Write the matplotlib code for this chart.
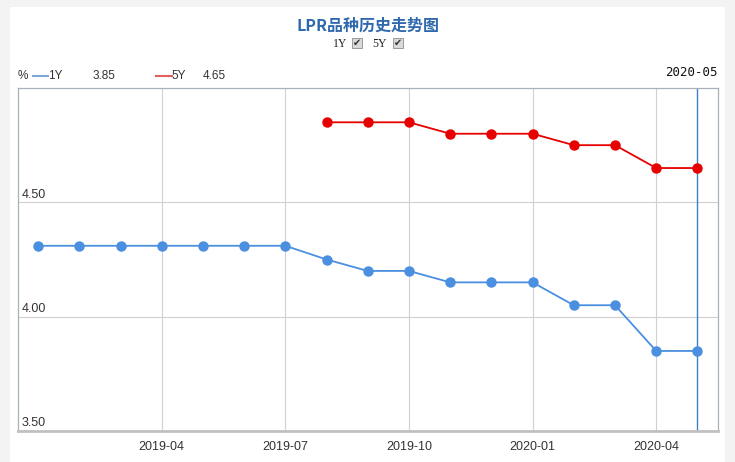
import matplotlib
matplotlib.use("Agg")
import matplotlib.pyplot as plt
from matplotlib.patches import Rectangle

months = ["2019-01", "2019-02", "2019-03", "2019-04", "2019-05", "2019-06", "2019-07",
          "2019-08", "2019-09", "2019-10", "2019-11", "2019-12", "2020-01", "2020-02",
          "2020-03", "2020-04", "2020-05"]
lpr_1y = [4.31, 4.31, 4.31, 4.31, 4.31, 4.31, 4.31, 4.25, 4.20, 4.20, 4.15, 4.15,
          4.15, 4.05, 4.05, 3.85, 3.85]
months_5y = months[7:]
lpr_5y = [4.85, 4.85, 4.85, 4.80, 4.80, 4.80, 4.75, 4.75, 4.65, 4.65]
x_ticks = ["2019-04", "2019-07", "2019-10", "2020-01", "2020-04"]
y_ticks = [3.50, 4.00, 4.50]
title = "LPR品种历史走势图"

plt.rcParams['font.family'] = ['Liberation Sans', 'Noto Sans CJK SC', 'DejaVu Sans']

W, H = 735, 462
fig = plt.figure(figsize=(W / 100, H / 100), dpi=100)
fig.patch.set_facecolor("#f3f3f3")
fig.patches.append(Rectangle((10 / W, 0), 715 / W, 1 - 7 / H, transform=fig.transFigure,
                             facecolor="white", edgecolor="none", zorder=-10))

ax = fig.add_axes([18 / W, 1 - 431 / H, 700 / W, 343 / H])
ax.set_facecolor("white")

idx = {m: i for i, m in enumerate(months)}
x1 = [idx[m] for m in months]
x5 = [idx[m] for m in months_5y]

c1 = "#4a8fe0"
c5 = "#e60000"
ax.plot(x1, lpr_1y, color=c1, lw=1.3, marker="o", ms=6.5, mec=c1, mfc=c1, zorder=3)
ax.plot(x5, lpr_5y, color=c5, lw=1.3, marker="o", ms=6.5, mec=c5, mfc=c5, zorder=3)

ax.set_xlim(-0.49, 16.5)
ax.set_ylim(3.5, 5.0)

# grid
for t in x_ticks:
    ax.axvline(idx[t], color="#ccd2dc", lw=0.8, zorder=1)
for y in y_ticks[1:]:
    ax.axhline(y, color="#d0d0d0", lw=0.8, zorder=1)
ax.axvline(idx["2020-05"], color="#3a82c4", lw=1.0, zorder=2)

ax.set_xticks([idx[t] for t in x_ticks])
ax.set_xticklabels(x_ticks, fontsize=9, color="#333333")
ax.tick_params(axis="x", length=0, pad=7)
ax.set_yticks([])
for y in y_ticks:
    ax.text(0.005, y + 0.008, f"{y:.2f}", transform=ax.get_yaxis_transform(),
            fontsize=9, color="#333333", ha="left", va="bottom")

for s in ["left", "top", "right"]:
    ax.spines[s].set_color("#a8b0bc")
    ax.spines[s].set_linewidth(0.9)
ax.spines["bottom"].set_color("#c0c0c0")
ax.spines["bottom"].set_linewidth(2.0)

# title and checkbox row
fig.text(368 / W, 1 - 26 / H, title, ha="center", va="center", fontsize=11.5,
         fontweight="bold", color="#2e68ad", family=['Noto Sans CJK SC', 'DejaVu Sans'])
fig.text(340 / W, 1 - 44 / H, "1Y", ha="center", va="center", fontsize=8.5, color="#222222",
         family=['Liberation Serif'])
fig.text(379 / W, 1 - 44 / H, "5Y", ha="center", va="center", fontsize=8.5, color="#222222",
         family=['Liberation Serif'])
for cx in (357, 398):
    fig.patches.append(Rectangle(((cx - 5) / W, 1 - 48 / H), 10 / W, 10 / H,
                                 transform=fig.transFigure, facecolor="#d9d9d9",
                                 edgecolor="#9a9a9a", lw=0.7, zorder=2))
    fig.text(cx / W, 1 - 43 / H, "✔", ha="center", va="center", fontsize=7,
             color="#333333", family=['DejaVu Sans'], zorder=3)

# legend row
ly = 1 - 76 / H
fig.text(18 / W, ly, "%", ha="left", va="center", fontsize=8.5, color="#333333")
fig.lines.append(plt.Line2D([33 / W, 48 / W], [ly, ly], transform=fig.transFigure,
                            color="#7fa8d8", lw=1.5))
fig.text(48 / W, ly, "1Y", ha="left", va="center", fontsize=8.5, color="#333333")
fig.text(93 / W, ly, f"{lpr_1y[-1]:.2f}", ha="left", va="center", fontsize=8.5, color="#333333")
fig.lines.append(plt.Line2D([156 / W, 172 / W], [ly, ly], transform=fig.transFigure,
                            color="#e06060", lw=1.5))
fig.text(171 / W, ly, "5Y", ha="left", va="center", fontsize=8.5, color="#333333")
fig.text(203 / W, ly, f"{lpr_5y[-1]:.2f}", ha="left", va="center", fontsize=8.5, color="#333333")
fig.text(718 / W, 1 - 73 / H, months[-1], ha="right", va="center", fontsize=9,
         color="#111111", family=['DejaVu Sans Mono'])

fig.savefig("out.png", dpi=100, facecolor=fig.get_facecolor())
